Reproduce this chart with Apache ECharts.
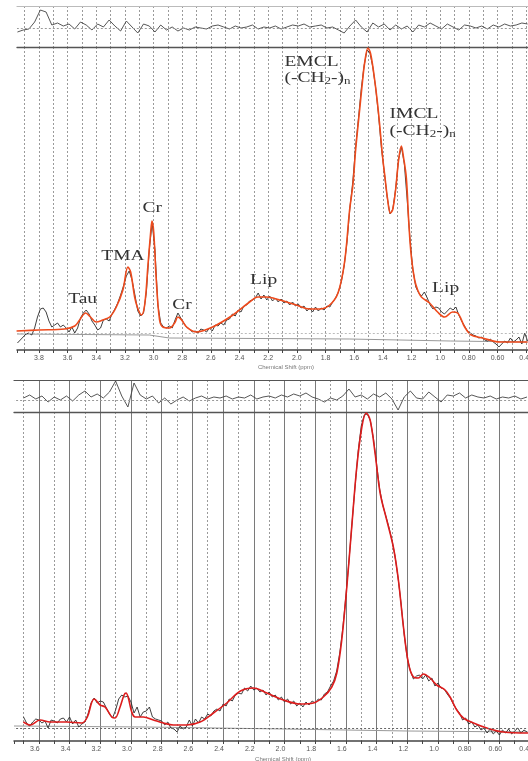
<!DOCTYPE html>
<html><head><meta charset="utf-8">
<script src="https://cdn.jsdelivr.net/npm/echarts@6/dist/echarts.min.js"></script>
<style>html,body{margin:0;padding:0;background:#fff}#c{width:528px;height:761px}</style>
</head><body><div id="c"></div>
<script>
// ---------- DATA ----------
// Top spectrum (chemical shift in ppm, intensity in arbitrary units)
const topDataStart = 3.95, topDataStep = 0.02;
const topDataVals = [
 7,10,13,16,17,15,22,33,41,42,
 38,29,23,25,27,23,25,22,18,23,
 17,22,32,37,40,36,29,25,20,22,
 30,31,29,36,41,47,55,64,74,79,
 70,55,39,34,37,58,100,127,100,45,
 27,23,22,24,22,30,37,32,27,23,
 21,18,19,17,21,20,18,22,19,25,
 24,27,25,30,31,36,34,40,38,44,
 45,49,50,52,57,51,55,50,54,49,
 52,48,51,47,49,45,48,44,46,42,
 44,39,42,38,43,39,42,40,44,43,
 48,52,58,68,84,108,142,168,203,232,
 262,285,300,297,283,262,235,202,178,153,
 136,141,162,191,203,186,150,110,80,63,
 57,54,58,52,45,41,43,42,38,36,
 39,42,40,43,35,29,24,19,17,15,
 14,12,13,10,9,11,8,6,3,6,
 9,7,12,8,10,13,6,17,9
];
const topFit = [
 [3.956,19],[3.80,20],[3.62,21],[3.55,24],[3.516,30],[3.474,37],[3.44,33],[3.40,28],[3.355,30],[3.306,33],
 [3.26,43],[3.214,60],[3.179,83],[3.16,78],[3.132,53],[3.111,42],[3.085,35],[3.062,45],[3.039,85],[3.02,118],
 [3.011,129],[2.999,118],[2.981,70],[2.958,30],[2.935,23],[2.888,22],[2.853,27],[2.83,33],[2.804,30],[2.769,23],
 [2.702,18],[2.588,23],[2.446,35],[2.33,48],[2.272,53],[2.213,53],[2.12,50],[2.004,45],[1.911,41],[1.841,41],
 [1.771,45],[1.713,57],[1.667,88],[1.632,140],[1.609,165],[1.59,200],[1.562,240],[1.541,270],[1.527,287],[1.504,302],
 [1.485,296],[1.457,270],[1.436,245],[1.422,225],[1.401,192],[1.387,175],[1.366,150],[1.348,137],[1.332,140],[1.311,160],
 [1.29,190],[1.271,204],[1.255,192],[1.236,172],[1.218,125],[1.201,93],[1.178,70],[1.157,60],[1.131,53],[1.074,47],
 [1.018,38],[0.969,33],[0.913,38],[0.878,37],[0.829,23],[0.783,15],[0.704,12],[0.585,8],[0.39,8]
];
const topBaseline = [[3.953,16],[3.03,15],[2.89,12],[1.63,11],[0.93,9],[0.39,8]];
const topZeroLevel = 17;
const topResStart = 3.95, topResStep = 0.04;
const topResidual = [
 -4,-2,-1,6,18,16,3,5,2,4,
 -1,6,3,-2,4,1,8,2,-3,7,
 1,-5,4,2,-4,3,-2,1,-3,0,
 -2,1,0,-1,2,3,1,-1,2,0,
 1,3,-1,1,0,2,-1,1,3,2,
 4,1,2,3,0,1,-2,-5,2,8,
 1,-4,5,1,4,-2,3,-1,2,-4,
 3,1,5,2,-1,4,1,-2,3,2,
 0,2,-1,3,1,4,2,3,5,4
];
const topTickValues = [3.8,3.6,3.4,3.2,3.0,2.8,2.6,2.4,2.2,2.0,1.8,1.6,1.4,1.2,1.0,0.8,0.6,0.4];
const topTickLabels = ['3.8','3.6','3.4','3.2','3.0','2.8','2.6','2.4','2.2','2.0','1.8','1.6','1.4','1.2','1.0','0.80','0.60','0.40'];
const topAnnotations = [
 {text:'Tau', ppm:3.495, h:51, align:'center'},
 {text:'TMA', ppm:3.214, h:94, align:'center'},
 {text:'Cr', ppm:3.010, h:142, align:'center'},
 {text:'Cr', ppm:2.801, h:45, align:'center'},
 {text:'Lip', ppm:2.232, h:70, align:'center'},
 {text:'{n|EMCL}', ppm:2.087, h:288, align:'left'},
 {text:'{n|(-CH}{s|2}{n|-)}{s|n}', ppm:2.087, h:272, align:'left'},
 {text:'{n|IMCL}', ppm:1.353, h:236, align:'left'},
 {text:'{n|(-CH}{s|2}{n|-)}{s|n}', ppm:1.353, h:219, align:'left'},
 {text:'Lip', ppm:0.962, h:62, align:'center'}
];

// Bottom spectrum
const botDataStart = 3.70, botDataStep = 0.02;
const botDataVals = [
 24,18,15,19,22,21,18,20,13,21,
 20,18,22,23,19,24,17,21,14,17,
 19,27,38,43,38,40,39,33,27,23,
 31,42,46,44,45,39,28,34,24,29,
 30,34,24,22,21,20,16,19,13,12,
 9,15,12,14,21,15,22,18,24,22,
 27,25,30,32,30,37,35,42,40,46,
 48,47,53,50,55,51,53,49,51,46,
 49,44,46,41,44,39,42,37,40,35,
 38,34,39,36,40,38,42,41,47,49,
 55,60,70,88,113,145,180,218,255,290,
 315,326,327,320,302,277,252,236,225,214,
 201,185,163,137,106,83,70,62,65,66,
 62,66,60,63,55,58,53,52,47,43,
 37,32,28,21,23,17,19,14,16,11,
 13,8,12,7,10,6,11,8,12,7,
 10,13,8,11,9
];
const botFit = [
 [3.701,19],[3.657,16],[3.592,21],[3.527,19],[3.418,19],[3.321,18],[3.284,24],[3.255,39],[3.24,42],[3.201,36],
 [3.169,34],[3.125,24],[3.104,23],[3.071,34],[3.045,46],[3.032,48],[3.017,43],[2.995,29],[2.973,24],[2.919,24],
 [2.854,21],[2.789,18],[2.724,16],[2.636,16],[2.55,19],[2.463,28],[2.376,38],[2.287,50],[2.203,53],[2.115,48],
 [2.007,41],[1.898,37],[1.812,38],[1.747,44],[1.692,54],[1.659,68],[1.627,101],[1.594,154],[1.562,214],[1.529,274],
 [1.496,314],[1.468,328],[1.442,321],[1.41,288],[1.377,248],[1.334,221],[1.291,194],[1.258,161],[1.225,114],[1.193,78],
 [1.16,64],[1.128,63],[1.095,67],[1.052,63],[1.008,56],[0.954,51],[0.921,44],[0.878,31],[0.835,23],[0.769,18],
 [0.682,13],[0.574,9],[0.413,8]
];
const botBaseline = [[3.762,15],[2.9,14],[2.0,12],[1.2,10],[0.413,9]];
const botZeroLevel = 13;
const botResStart = 3.70, botResStep = 0.04;
const botResidual = [
 2,5,1,4,-2,3,0,4,-1,5,
 9,3,6,2,8,19,4,-7,17,5,
 1,4,-3,2,-4,0,3,-1,2,4,
 1,3,2,4,1,3,2,5,1,3,
 4,2,5,3,6,4,7,3,1,-2,
 2,0,4,11,3,5,1,6,3,7,
 1,-10,3,9,2,1,8,3,-2,5,
 4,7,2,5,3,2,4,1,3,2,
 4,1,3
];
const botTickValues = [3.6,3.4,3.2,3.0,2.8,2.6,2.4,2.2,2.0,1.8,1.6,1.4,1.2,1.0,0.8,0.6,0.4];
const botTickLabels = ['3.6','3.4','3.2','3.0','2.8','2.6','2.4','2.2','2.0','1.8','1.6','1.4','1.2','1.0','0.80','0.60','0.40'];
const axisTitle = 'Chemical Shift (ppm)';

// ---------- CHART ----------
function seq(start, step, vals) { return vals.map((v, i) => [+(start - i * step).toFixed(3), v]); }
function fmt(vals, labels) {
  return v => { const i = vals.findIndex(t => Math.abs(t - v) < 1e-6); return i >= 0 ? labels[i] : ''; };
}
const topRange = {type:'value', min:0.2, max:3.953, interval:0.2, inverse:true};
const botRange = {type:'value', min:0.4, max:3.762, interval:0.2, inverse:true};
const dotted = {color:'#9a9a9a', width:1, type:[2,2]};
const solid = {color:'#7a7a7a', width:1, type:'solid'};

function resAxis(range, gi, split, minor, bottomColor) {
  return Object.assign({}, range, {gridIndex:gi, position:'bottom',
    axisLine:{show:true, onZero:false, lineStyle:{color:bottomColor, width:1.3}},
    axisTick:{show:false}, axisLabel:{show:false},
    minorTick:{show:false, splitNumber:2},
    splitLine:{show:true, showMinLine:false, showMaxLine:false, lineStyle:split},
    minorSplitLine:{show:true, lineStyle:minor}});
}
function topLineAxis(range, gi, color) {
  return Object.assign({}, range, {gridIndex:gi, position:'top',
    axisLine:{show:true, onZero:false, lineStyle:{color:color, width:1.2}},
    axisTick:{show:false}, axisLabel:{show:false}, splitLine:{show:false}});
}
function mainAxis(range, gi, split, minor, vals, labels, pad, nameGap, namePad) {
  return Object.assign({}, range, {gridIndex:gi, position:'bottom',
    axisLine:{show:true, onZero:false, lineStyle:{color:'#444', width:1.5}},
    axisTick:{show:true, length:3, lineStyle:{color:'#444'}},
    minorTick:{show:true, splitNumber:2, length:3, lineStyle:{color:'#444'}},
    axisLabel:{show:true, fontSize:7, color:'#555', margin:5, fontFamily:'Liberation Sans',
      padding:pad, formatter:fmt(vals, labels)},
    splitLine:{show:true, showMinLine:false, showMaxLine:false, lineStyle:split},
    minorSplitLine:{show:true, lineStyle:minor},
    name:axisTitle, nameLocation:'middle', nameGap:nameGap,
    nameTextStyle:{fontSize:6, color:'#777', fontFamily:'Liberation Sans', padding:namePad}});
}

const chart = echarts.init(document.getElementById('c'), null, {renderer:'canvas'});
const grids = [
  {left:17, top:6, width:537.8, height:41, outerBoundsMode:'none', containLabel:false},
  {left:17, top:47, width:537.8, height:303, outerBoundsMode:'none', containLabel:false},
  {left:14, top:380, width:516.1, height:32, outerBoundsMode:'none', containLabel:false},
  {left:14, top:412, width:516.1, height:329, outerBoundsMode:'none', containLabel:false}
];
const hidden = {show:false};
const midLine = (v, color) => ({silent:true, symbol:'none', label:{show:false},
  lineStyle:{color:color, width:1, type:[2,2]}, data:[{yAxis:v}], animation:false});

const option = {
  animation:false,
  backgroundColor:'#fff',
  grid: grids,
  xAxis: [
    resAxis(topRange, 0, dotted, dotted, '#555'),
    topLineAxis(topRange, 0, '#bbb'),
    mainAxis(topRange, 1, dotted, dotted, topTickValues, topTickLabels, [0,0,0,0], 14, [0,0,0,0]),
    resAxis(botRange, 2, solid, dotted, '#555'),
    topLineAxis(botRange, 2, '#555'),
    mainAxis(botRange, 3, solid, dotted, botTickValues, botTickLabels, [0,8,0,0], 15, [0,0,0,22])
  ],
  yAxis: [
    Object.assign({type:'value', gridIndex:0, min:-19, max:22}, hidden),
    Object.assign({type:'value', gridIndex:1, min:0, max:303}, hidden),
    Object.assign({type:'value', gridIndex:2, min:-12, max:20}, hidden),
    Object.assign({type:'value', gridIndex:3, min:0, max:329}, hidden)
  ],
  series: [
    {type:'line', xAxisIndex:0, yAxisIndex:0, data:seq(topResStart, topResStep, topResidual),
     showSymbol:false, lineStyle:{color:'#444', width:0.9}, markLine:midLine(0, '#999'), z:3},
    {type:'line', xAxisIndex:2, yAxisIndex:1, data:topBaseline, showSymbol:false,
     lineStyle:{color:'#999', width:1}, markLine:midLine(topZeroLevel, '#bbb'), z:2},
    {type:'line', xAxisIndex:2, yAxisIndex:1, data:seq(topDataStart, topDataStep, topDataVals),
     showSymbol:false, lineStyle:{color:'#2a2a2a', width:0.9}, z:3},
    {type:'line', xAxisIndex:2, yAxisIndex:1, data:topFit, smooth:0.35, showSymbol:false,
     lineStyle:{color:'#ee4a1c', width:1.6}, z:4},
    {type:'line', xAxisIndex:3, yAxisIndex:2, data:seq(botResStart, botResStep, botResidual),
     showSymbol:false, lineStyle:{color:'#444', width:0.9}, markLine:midLine(0, '#999'), z:3},
    {type:'line', xAxisIndex:5, yAxisIndex:3, data:botBaseline, showSymbol:false,
     lineStyle:{color:'#999', width:1}, markLine:midLine(botZeroLevel, '#666'), z:2},
    {type:'line', xAxisIndex:5, yAxisIndex:3, data:seq(botDataStart, botDataStep, botDataVals),
     showSymbol:false, lineStyle:{color:'#2a2a2a', width:0.9}, z:3},
    {type:'line', xAxisIndex:5, yAxisIndex:3, data:botFit, smooth:0.35, showSymbol:false,
     lineStyle:{color:'#dd1c1c', width:1.6}, z:4}
  ]
};
chart.setOption(option);

const serif = "'Liberation Serif','DejaVu Serif','Times New Roman',serif";
const graphics = topAnnotations.map(a => {
  const p = chart.convertToPixel({xAxisIndex:2, yAxisIndex:1}, [a.ppm, a.h]);
  return {type:'text', x:p[0], y:p[1], scaleX:1.3, silent:true, z:100,
    style:{text:a.text, fill:'#333', fontSize:15, fontFamily:serif,
      align:a.align, verticalAlign:'middle',
      rich:{n:{fontSize:15, fontFamily:serif, fill:'#333', lineHeight:17},
            s:{fontSize:10, fontFamily:serif, fill:'#333', verticalAlign:'bottom', lineHeight:10}}}};
});
chart.setOption({graphic:graphics});
</script></body></html>
